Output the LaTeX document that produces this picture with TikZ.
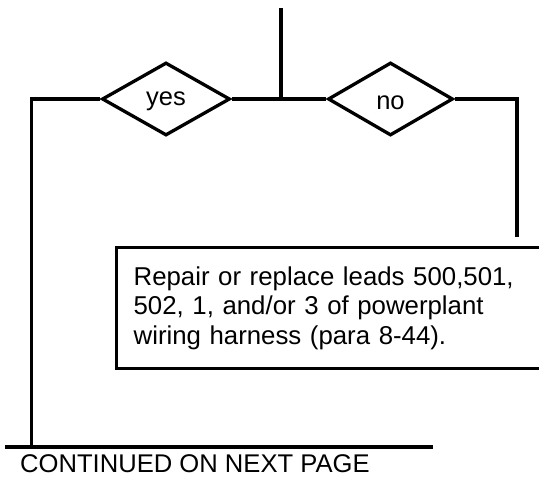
\documentclass[tikz,border=0pt]{standalone}
\usepackage{fontspec}
\setmainfont{Liberation Sans}
\usetikzlibrary{shapes.geometric}
\begin{document}
\begin{tikzpicture}[x=1pt,y=-1pt,
  line/.style={line width=3.3pt},
  decision/.style={diamond, draw, line width=3.3pt, inner sep=0pt,
    minimum width=128pt, minimum height=73pt, font=\fontsize{25.5}{29.5}\selectfont},
  actionbox/.style={draw, line width=3.3pt, anchor=north west, align=left,
    text width=411pt, inner xsep=17pt, inner ysep=0pt, minimum height=121pt,
    font=\fontsize{25.8}{29.5}\selectfont},
  label/.style={inner sep=0pt, font=\fontsize{25.6}{29.5}\selectfont}]
\clip (0,0) rectangle (539,478);
\fill[white] (0,0) rectangle (539,478);
% decisions
\node[decision, text height=16pt, text depth=2pt] (yes) at (166,99) {yes};
\node[decision, minimum width=125pt, text height=22pt, text depth=1.4pt] (no) at (390.5,99) {no};
% coordinates
\coordinate (top) at (281,8);
\coordinate (j) at (281,99);
\coordinate (lc) at (31.5,99);
\coordinate (lb) at (31.5,447);
\coordinate (bl) at (5,447);
\coordinate (br) at (433,447);
\coordinate (rend) at (517,237);
% action box
\node[actionbox] (box) at (115,246) {Repair or replace leads 500,501,\\502, 1, and/or 3 of powerplant\\wiring harness (para 8-44).};
% connectors
\draw[line] (top) -- (j);
\draw[line] (yes.east) -- (no.west);
\draw[line] (yes.west) -- (lc) -- (lb);
\draw[line] (no.east) -| (rend);
\draw[line] (bl) -- (br);
\node[label, anchor=base west] (cont) at (20,472.7) {CONTINUED ON NEXT PAGE};
\end{tikzpicture}
\end{document}
